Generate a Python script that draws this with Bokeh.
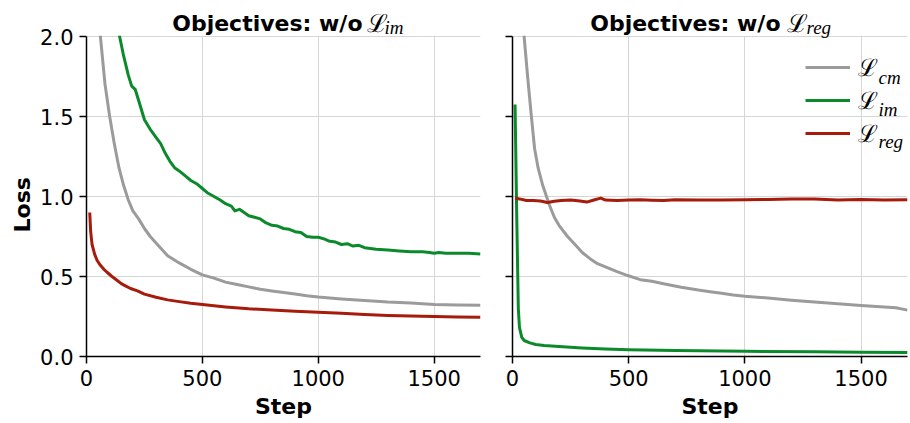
from bokeh.plotting import figure
from bokeh.layouts import row
from bokeh.models import (Range1d, FixedTicker, Label, Legend, LegendItem, PrintfTickFormatter,
                          BoxAnnotation, Title)
from bokeh.core.properties import value
from bokeh.embed import file_html
from bokeh.resources import INLINE

# ---------------- data ----------------
x_ticks = [0, 500, 1000, 1500]
y_ticks = [0.0, 0.5, 1.0, 1.5, 2.0]

# Left panel: w/o L_im
left_cm_step = [50, 60, 80, 100, 120, 140, 160, 180, 200, 225, 250, 275, 300, 350, 400, 450, 500,
                550, 600, 650, 700, 750, 800, 850, 900, 950, 1000, 1100, 1200, 1300, 1400, 1500, 1600, 1700]
left_cm_loss = [2.2, 2.0, 1.7, 1.5, 1.33, 1.18, 1.07, 0.98, 0.91, 0.86, 0.80, 0.75, 0.71, 0.63, 0.585,
                0.545, 0.51, 0.49, 0.465, 0.45, 0.435, 0.42, 0.41, 0.40, 0.39, 0.38, 0.372, 0.36, 0.35,
                0.34, 0.335, 0.325, 0.322, 0.32]

left_im_step = [127, 140, 160, 180, 195, 210, 225, 250, 275, 300, 320, 340, 360, 380, 400, 425, 450,
                475, 500, 525, 550, 575, 600, 625, 640, 660, 680, 700, 725, 750, 775, 800, 825, 850, 875,
                900, 925, 950, 975, 1000, 1025, 1050, 1075, 1100, 1125, 1150, 1175, 1200, 1250, 1300,
                1350, 1400, 1450, 1480, 1500, 1520, 1550, 1600, 1650, 1700]
left_im_loss = [2.2, 2.02, 1.88, 1.76, 1.69, 1.67, 1.6, 1.48, 1.42, 1.37, 1.33, 1.27, 1.22, 1.18,
                1.16, 1.13, 1.10, 1.08, 1.05, 1.02, 1.0, 0.98, 0.955, 0.94, 0.91, 0.92, 0.9, 0.88, 0.87,
                0.86, 0.835, 0.82, 0.815, 0.8, 0.795, 0.78, 0.775, 0.75, 0.745, 0.745, 0.735, 0.72, 0.715,
                0.70, 0.705, 0.69, 0.695, 0.68, 0.67, 0.665, 0.66, 0.655, 0.655, 0.65, 0.645, 0.65, 0.645,
                0.645, 0.645, 0.64]

left_reg_step = [14, 18, 24, 35, 46, 60, 75, 90, 110, 130, 150, 170, 190, 220, 250, 300, 350, 400, 450,
                 500, 600, 700, 800, 900, 1000, 1100, 1200, 1300, 1400, 1500, 1600, 1700]
left_reg_loss = [0.90, 0.78, 0.70, 0.64, 0.60, 0.57, 0.545, 0.525, 0.5, 0.478, 0.455, 0.44, 0.425, 0.41,
                 0.39, 0.37, 0.354, 0.343, 0.333, 0.325, 0.31, 0.298, 0.29, 0.283, 0.277, 0.27, 0.263,
                 0.257, 0.253, 0.25, 0.247, 0.245]

# Right panel: w/o L_reg
right_cm_step = [42, 50, 65, 80, 95, 110, 130, 158, 180, 200, 237, 275, 300, 335, 366, 400, 450, 496,
                 550, 600, 650, 726, 800, 850, 900, 950, 1000, 1100, 1200, 1300, 1400, 1500, 1600, 1650, 1700]
right_cm_loss = [2.2, 2.0, 1.75, 1.52, 1.3, 1.18, 1.07, 0.95, 0.87, 0.82, 0.75, 0.69, 0.65, 0.61,
                 0.58, 0.56, 0.53, 0.506, 0.48, 0.47, 0.455, 0.433, 0.415, 0.405, 0.395, 0.385, 0.377,
                 0.365, 0.352, 0.34, 0.33, 0.319, 0.31, 0.305, 0.29]

right_im_step = [11, 18, 25, 30, 40, 50, 75, 100, 136, 200, 300, 400, 500, 700, 1000, 1300, 1500, 1700]
right_im_loss = [1.575, 0.9, 0.3, 0.18, 0.12, 0.1, 0.085, 0.075, 0.069, 0.062, 0.053, 0.047, 0.042,
                 0.037, 0.033, 0.029, 0.027, 0.025]

right_reg_step = [11, 30, 60, 90, 120, 150, 180, 210, 250, 290, 320, 350, 380, 400, 450, 500, 550, 600,
                  650, 700, 800, 900, 1000, 1100, 1200, 1300, 1400, 1500, 1600, 1700]
right_reg_loss = [0.99, 0.985, 0.975, 0.975, 0.972, 0.962, 0.97, 0.975, 0.978, 0.972, 0.965, 0.978, 0.99,
                  0.978, 0.975, 0.978, 0.98, 0.977, 0.975, 0.98, 0.978, 0.978, 0.98, 0.982, 0.985, 0.985,
                  0.978, 0.982, 0.978, 0.98]

titles = ["Objectives: w/o", "Objectives: w/o"]
title_subs = ["im", "reg"]
legend_subs = ["cm", "im", "reg"]
x_label = "Step"
y_label = "Loss"

C_CM = "#9b9b9b"
C_IM = "#0b8a2b"
C_REG = "#a61b0b"
SANS = "DejaVu Sans"
GRID = "#d6d6d6"
Y_MAX = 2.0
Y_TOP = 2.225  # plotting area extends above the axis to hold the title


def make_fig(width, left_border, right_border, show_ylab):
    p = figure(width=width, height=423, output_backend="svg", toolbar_location=None,
               x_range=Range1d(0, 1700), y_range=Range1d(0, Y_TOP),
               min_border_left=left_border, min_border_right=right_border,
               min_border_top=0, min_border_bottom=67)
    p.outline_line_color = None
    p.background_fill_color = "white"
    p.border_fill_color = "white"
    p.xaxis.ticker = FixedTicker(ticks=x_ticks)
    p.yaxis.ticker = FixedTicker(ticks=y_ticks)
    p.yaxis.bounds = (0, Y_MAX)
    for ax in p.axis:
        ax.axis_line_color = "black"
        ax.axis_line_width = 1.5
        ax.major_tick_line_color = "black"
        ax.major_tick_line_width = 1.5
        ax.major_tick_out = 7
        ax.major_tick_in = 0
        ax.minor_tick_line_color = None
        ax.major_label_text_font = SANS
        ax.major_label_text_font_size = "21px"
        ax.major_label_text_color = "black"
        ax.major_label_standoff = 6
        ax.axis_label_text_font = SANS
        ax.axis_label_text_font_size = "22px"
        ax.axis_label_text_font_style = "bold"
        ax.axis_label_text_color = "black"
        ax.axis_label_standoff = 5
    p.xaxis.axis_label = x_label
    if show_ylab:
        p.yaxis.formatter = PrintfTickFormatter(format="%.1f")
        p.add_layout(Title(text=y_label, align="left", offset=124, standoff=6,
                           text_font=SANS, text_font_size="22px", text_font_style="bold",
                           text_color="black"), "left")
    else:
        p.yaxis.major_label_overrides = {t: "" for t in y_ticks}
    p.grid.grid_line_color = GRID
    p.grid.grid_line_width = 1
    return p


def cover_top(p):
    p.add_layout(BoxAnnotation(bottom=Y_MAX + 0.004, top=Y_TOP * 3, fill_color="white",
                               fill_alpha=1.0, line_color=None))


def add_title(p, main, sub, xr, gap, subgap):
    p.add_layout(Label(x=xr, y=333, x_units="screen", y_units="screen", text=main,
                       text_font=SANS, text_font_size="22px", text_font_style="bold",
                       text_align="right", text_baseline="alphabetic", text_color="black"))
    p.add_layout(Label(x=xr + gap, y=333, x_units="screen", y_units="screen", text="ℒ",
                       text_font="DejaVu Serif", text_font_size="25px",
                       text_align="left", text_baseline="alphabetic", text_color="black"))
    p.add_layout(Label(x=xr + gap + subgap, y=329, x_units="screen", y_units="screen", text=sub,
                       text_font="Liberation Serif", text_font_size="19px", text_font_style="italic",
                       text_align="left", text_baseline="alphabetic", text_color="black"))


p1 = make_fig(490, 86, 10, True)
p1.line(left_cm_step, left_cm_loss, line_color=C_CM, line_width=3, line_join="round")
p1.line(left_im_step, left_im_loss, line_color=C_IM, line_width=3, line_join="round")
p1.line(left_reg_step, left_reg_loss, line_color=C_REG, line_width=3, line_join="round")
cover_top(p1)
add_title(p1, titles[0], title_subs[0], 276, 4, 18)

p2 = make_fig(420, 22, 3, False)
r_cm = p2.line(right_cm_step, right_cm_loss, line_color=C_CM, line_width=3, line_join="round")
r_im = p2.line(right_im_step, right_im_loss, line_color=C_IM, line_width=3, line_join="round")
r_reg = p2.line(right_reg_step, right_reg_loss, line_color=C_REG, line_width=3, line_join="round")
cover_top(p2)
add_title(p2, titles[1], title_subs[1], 268, 6, 20)

legend = Legend(items=[LegendItem(label=value("ℒ"), renderers=[r_cm]),
                       LegendItem(label=value("ℒ"), renderers=[r_im]),
                       LegendItem(label=value("ℒ"), renderers=[r_reg])],
                location=(293, 207), orientation="vertical",
                label_text_font="DejaVu Serif", label_text_font_size="24px",
                label_text_color="black",
                glyph_width=45, glyph_height=32, label_height=32, spacing=0,
                label_standoff=8, padding=0, margin=0,
                border_line_color=None, background_fill_alpha=0)
p2.add_layout(legend)
for i, s in enumerate(legend_subs):
    p2.add_layout(Label(x=366, y=279 - 32 * i, x_units="screen", y_units="screen", text=s,
                        text_font="Liberation Serif", text_font_size="19px", text_font_style="italic",
                        text_align="left", text_baseline="alphabetic", text_color="black"))

layout = row(p1, p2)
open("out.html", "w").write(file_html(layout, INLINE))
